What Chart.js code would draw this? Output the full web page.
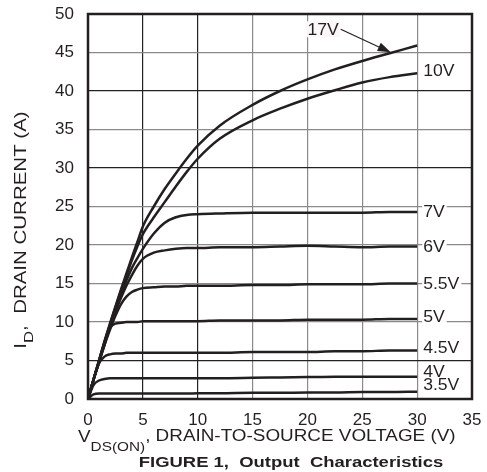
<!DOCTYPE html>
<html>
<head>
<meta charset="utf-8">
<script src="https://cdn.jsdelivr.net/npm/chart.js@4.4.1/dist/chart.umd.min.js"></script>
<style>
  html, body { margin: 0; padding: 0; background: #fff; }
  #wrap { width: 487px; height: 472px; }
</style>
</head>
<body>
<div id="wrap"><canvas id="outChart" width="487" height="472"></canvas></div>
<script>
// drain-to-source voltage samples (V)
const vds = [0, 0.5, 1, 1.5, 2, 2.5, 3, 3.5, 4, 4.5, 5, 6, 7, 8, 9, 10, 12, 15, 17.5, 20, 22.5, 25, 27.5, 30];

// drain current (A) for each gate voltage
const id17 = [0, 2.5, 5, 7.5, 9.8, 12, 14.2, 16.3, 18.4, 20.4, 22.4, 25.0, 27.3, 29.3, 31.2, 32.9, 35.5, 38.2, 40, 41.5, 42.8, 43.9, 44.9, 45.9];
const id10 = [0, 2.5, 5, 7.4, 9.7, 11.9, 14, 16, 18, 19.8, 21.4, 23.6, 25.6, 27.6, 29.5, 31.2, 33.8, 36.2, 37.7, 39.0, 40.1, 41.1, 41.8, 42.3];
const id7 = [0, 2.5, 4.9, 7.3, 9.5, 11.6, 13.6, 15.4, 17, 18.3, 19.5, 21.5, 22.9, 23.6, 23.9, 24.0, 24.1, 24.2, 24.2, 24.2, 24.2, 24.2, 24.3, 24.3];
const id6 = [0, 2.5, 4.9, 7.2, 9.3, 11.3, 13.1, 14.7, 16.1, 17.3, 18.2, 19.0, 19.3, 19.5, 19.6, 19.6, 19.7, 19.7, 19.8, 19.9, 19.8, 19.7, 19.8, 19.8];
const id55 = [0, 2.5, 4.8, 7.0, 9.0, 10.8, 12.3, 13.3, 13.9, 14.2, 14.4, 14.5, 14.6, 14.6, 14.7, 14.7, 14.7, 14.8, 14.8, 14.9, 14.9, 14.9, 15.0, 15.0];
const id5 = [0, 2.5, 4.7, 7.0, 9.2, 9.8, 9.9, 10.0, 10.0, 10.0, 10.1, 10.1, 10.1, 10.1, 10.1, 10.1, 10.2, 10.2, 10.2, 10.3, 10.3, 10.3, 10.4, 10.4];
const id45 = [0, 2.5, 4.6, 5.5, 5.8, 5.9, 5.9, 6.0, 6.0, 6.0, 6.0, 6.0, 6.0, 6.0, 6.0, 6.0, 6.0, 6.1, 6.1, 6.1, 6.2, 6.2, 6.3, 6.3];
const id4 = [0, 1.8, 2.4, 2.6, 2.7, 2.7, 2.7, 2.7, 2.7, 2.7, 2.7, 2.7, 2.7, 2.7, 2.7, 2.7, 2.7, 2.75, 2.8, 2.85, 2.9, 2.9, 2.9, 2.9];
const id35 = [0, 0.6, 0.7, 0.7, 0.7, 0.7, 0.7, 0.7, 0.7, 0.7, 0.7, 0.7, 0.7, 0.7, 0.7, 0.75, 0.75, 0.8, 0.8, 0.85, 0.85, 0.9, 0.9, 0.95];

const gateLabels = ['17V', '10V', '7V', '6V', '5.5V', '5V', '4.5V', '4V', '3.5V'];
const seriesList = [id17, id10, id7, id6, id55, id5, id45, id4, id35];

const xTicks = [0, 5, 10, 15, 20, 25, 30, 35];
const yTicks = [0, 5, 10, 15, 20, 25, 30, 35, 40, 45, 50];

const FONT = "'Liberation Sans', Arial, sans-serif";
const INK = '#231f20';

// darker grid lines in the original print
const darkX = [5, 10];
const darkY = [5, 30, 40];

// small vertical nudges (px) for the end labels
const labelNudge = { '10V': -3, '7V': 0, '6V': 0, '5.5V': 0, '5V': -2, '4.5V': -3, '4V': -5, '3.5V': -7 };

const datasets = seriesList.map((arr, i) => ({
  label: gateLabels[i],
  data: arr.map((v, k) => ({ x: vds[k], y: v })),
  borderColor: INK,
  borderWidth: 2.5,
  pointRadius: 0,
  cubicInterpolationMode: 'monotone',
  fill: false
}));

// text drawn wider, like the print's Helvetica
function wideText(ctx, str, x, y, sx) {
  ctx.save();
  ctx.translate(x, y);
  ctx.scale(sx, 1);
  ctx.fillText(str, 0, 0);
  ctx.restore();
  return ctx.measureText(str).width * sx;
}

const decorPlugin = {
  id: 'decor',
  afterDatasetsDraw(chart) {
    const ctx = chart.ctx;
    const a = chart.chartArea;
    const xs = chart.scales.x, ys = chart.scales.y;
    ctx.save();
    // frame
    ctx.strokeStyle = INK;
    ctx.lineWidth = 2.5;
    ctx.strokeRect(a.left, a.top, a.right - a.left, a.bottom - a.top);

    // end labels
    ctx.font = '16px ' + FONT;
    ctx.textBaseline = 'middle';
    ctx.textAlign = 'left';
    gateLabels.forEach((lab, i) => {
      if (lab === '17V') return;
      const arr = seriesList[i];
      const px = xs.getPixelForValue(vds[vds.length - 1]) + 6;
      const py = ys.getPixelForValue(arr[arr.length - 1]) + (labelNudge[lab] || 0);
      const w = ctx.measureText(lab).width * 1.1;
      ctx.fillStyle = '#fff';
      ctx.fillRect(px - 1, py - 7, w + 3, 14);
      ctx.fillStyle = INK;
      wideText(ctx, lab, px, py + 1, 1.1);
    });

    // 17V label with arrow to its curve
    const k = vds.indexOf(27.5);
    const tx = xs.getPixelForValue(vds[k]) + 1;
    const ty = ys.getPixelForValue(id17[k]) - 1;
    const sx = tx - 50, sy = ty - 23;
    ctx.strokeStyle = INK;
    ctx.lineWidth = 1.2;
    ctx.beginPath();
    ctx.moveTo(sx, sy);
    ctx.lineTo(tx - 8, ty - 3.5);
    ctx.stroke();
    const ang = Math.atan2(ty - sy, tx - sx);
    ctx.fillStyle = INK;
    ctx.beginPath();
    ctx.moveTo(tx, ty);
    ctx.lineTo(tx - 13 * Math.cos(ang) + 4.5 * Math.sin(ang), ty - 13 * Math.sin(ang) - 4.5 * Math.cos(ang));
    ctx.lineTo(tx - 13 * Math.cos(ang) - 4.5 * Math.sin(ang), ty - 13 * Math.sin(ang) + 4.5 * Math.cos(ang));
    ctx.closePath();
    ctx.fill();
    ctx.font = '16px ' + FONT;
    const w17 = ctx.measureText('17V').width * 1.1;
    ctx.fillStyle = '#fdf6f8';
    ctx.fillRect(sx - w17 - 3, sy - 8, w17 + 2, 16);
    ctx.fillStyle = INK;
    wideText(ctx, '17V', sx - w17 - 2, sy + 1, 1.1);
    ctx.restore();
  },
  afterDraw(chart) {
    const ctx = chart.ctx;
    const big = '16px ' + FONT, small = '13px ' + FONT;
    ctx.save();
    ctx.fillStyle = INK;
    ctx.textBaseline = 'alphabetic';
    ctx.textAlign = 'left';

    // y axis title with subscript, rotated
    const sy = 1.28;
    ctx.translate(26, 230);
    ctx.rotate(-Math.PI / 2);
    ctx.font = big; const wI = ctx.measureText('I').width * sy;
    ctx.font = small; const wD = ctx.measureText('D').width * sy;
    ctx.font = big; const wRest = ctx.measureText(',  DRAIN CURRENT (A)').width * sy;
    let x0 = -(wI + wD + wRest) / 2;
    ctx.font = big; x0 += wideText(ctx, 'I', x0, 0, sy);
    ctx.font = small; x0 += wideText(ctx, 'D', x0, 7, sy);
    ctx.font = big; wideText(ctx, ',  DRAIN CURRENT (A)', x0, 0, sy);
    ctx.restore();

    // x axis title with subscript
    ctx.save();
    ctx.fillStyle = INK;
    ctx.textBaseline = 'alphabetic';
    ctx.textAlign = 'left';
    const sxx = 1.18;
    let xx = 78;
    const yb = 442;
    ctx.font = big; xx += wideText(ctx, 'V', xx, yb, sxx);
    ctx.font = small; xx += wideText(ctx, 'DS(ON)', xx, yb + 9, sxx);
    ctx.font = big; wideText(ctx, ', DRAIN-TO-SOURCE VOLTAGE (V)', xx, yb - 1, sxx);

    // figure caption
    ctx.font = 'bold 15px ' + FONT;
    const capW = ctx.measureText('FIGURE 1,  Output  Characteristics').width * 1.23;
    wideText(ctx, 'FIGURE 1,  Output  Characteristics', 291 - capW / 2, 467, 1.23);
    ctx.restore();
  }
};

new Chart(document.getElementById('outChart').getContext('2d'), {
  type: 'line',
  data: { datasets: datasets },
  options: {
    responsive: false,
    animation: false,
    devicePixelRatio: 1,
    layout: { padding: { top: 14, right: 15, left: 0, bottom: 0 } },
    plugins: { legend: { display: false }, tooltip: { enabled: false }, title: { display: false } },
    scales: {
      x: {
        type: 'linear',
        min: xTicks[0],
        max: xTicks[xTicks.length - 1],
        afterBuildTicks: s => { s.ticks = xTicks.map(v => ({ value: v })); },
        afterFit: s => { s.height = 73; s.paddingLeft = 0; s.paddingRight = 0; },
        border: { display: false },
        grid: {
          drawTicks: false,
          lineWidth: 1.2,
          color: c => darkX.includes(c.tick.value) ? '#222' : '#8a8a8a'
        },
        ticks: { color: INK, font: { size: 17, family: FONT }, padding: 11, maxRotation: 0 }
      },
      y: {
        type: 'linear',
        min: yTicks[0],
        max: yTicks[yTicks.length - 1],
        afterBuildTicks: s => { s.ticks = yTicks.map(v => ({ value: v })); },
        afterFit: s => { s.width = 88; s.paddingTop = 0; s.paddingBottom = 0; },
        border: { display: false },
        grid: {
          drawTicks: false,
          lineWidth: 1.2,
          color: c => darkY.includes(c.tick.value) ? '#222' : '#8a8a8a'
        },
        ticks: { color: INK, font: { size: 17, family: FONT }, padding: 14 }
      }
    }
  },
  plugins: [decorPlugin]
});
</script>
</body>
</html>
